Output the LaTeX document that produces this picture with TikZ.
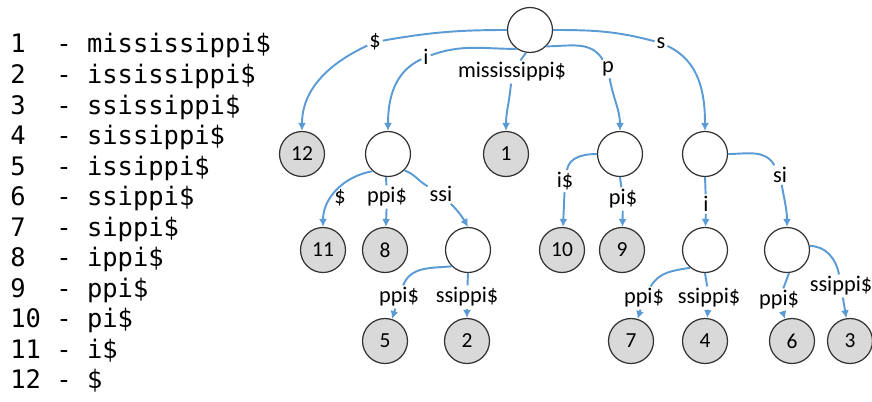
\documentclass[tikz,border=0pt]{standalone}
\usepackage{fontspec}
\setmainfont{Carlito}
\newfontfamily\sufmono{DejaVu Sans Mono}
\usetikzlibrary{arrows.meta}
\definecolor{edgeBlue}{RGB}{91,155,213}

\begin{document}
\begin{tikzpicture}[x=0.02cm,y=-0.02cm,
    innerNode/.style={circle,draw=black!80,line width=0.7pt,minimum size=0.9cm,inner sep=0pt,font=\fontsize{12.2}{14}\selectfont},
    leafNode/.style={innerNode,fill=black!15},
    edgeLbl/.style={inner sep=1pt,font=\fontsize{12.7}{14}\selectfont},
    edgeLine/.style={draw=edgeBlue,line width=1.1pt},
    edgeArrow/.style={edgeLine,-{Latex[length=4.5pt,width=4.5pt]}},
    sufLine/.style={anchor=base west,inner sep=0pt,font=\sufmono\fontsize{14.5}{16}\selectfont},
]
\useasboundingbox (0,0) rectangle (872,402);
% suffixes of mississippi$
\foreach \k/\s in {1/mississippi,2/ississippi,3/ssissippi,4/sissippi,5/issippi,6/ssippi,
                   7/sippi,8/ippi,9/ppi,10/pi,11/i,12/{}}
    \node[sufLine] (suf\k) at (10,{53+30.5*(\k-1)}) {\k\ifnum\k<10~\fi{} - \s\$};

% tree nodes
\node[innerNode] (root) at (530,30) {};
\node[leafNode] (leaf12) at (302,154) {12};
\node[innerNode] (nodeI) at (388,154) {};
\node[leafNode] (leaf1) at (506,154) {1};
\node[innerNode] (nodeP) at (620,154) {};
\node[innerNode] (nodeS) at (705,154) {};
\node[leafNode] (leaf11) at (323,250) {11};
\node[leafNode] (leaf8) at (385,250) {8};
\node[innerNode] (nodeISSI) at (468,250) {};
\node[leafNode] (leaf10) at (562,250) {10};
\node[leafNode] (leaf9) at (622,250) {9};
\node[innerNode] (nodeSI) at (705,250) {};
\node[innerNode] (nodeSSI) at (787,250) {};
\node[leafNode] (leaf5) at (385,341) {5};
\node[leafNode] (leaf2) at (467,341) {2};
\node[leafNode] (leaf7) at (631,341) {7};
\node[leafNode] (leaf4) at (705,341) {4};
\node[leafNode] (leaf6) at (792,341) {6};
\node[leafNode] (leaf3) at (850,341) {3};

% edge labels
\node[edgeLbl] (lbl12) at (375,42) {\$};
\node[edgeLbl] (lblI) at (426,57) {i};
\node[edgeLbl] (lbl1) at (512,72) {mississippi\$};
\node[edgeLbl] (lblP) at (608,69) {p};
\node[edgeLbl] (lblS) at (661,43) {s};
\node[edgeLbl] (lbl11) at (340,198) {\$};
\node[edgeLbl] (lbl8) at (387,197) {ppi\$};
\node[edgeLbl] (lblISSI) at (441,194) {ssi};
\node[edgeLbl] (lbl10) at (565,181) {i\$};
\node[edgeLbl] (lbl9) at (623,199) {pi\$};
\node[edgeLbl] (lblSI) at (706,204) {i};
\node[edgeLbl] (lblSSI) at (780,175) {si};
\node[edgeLbl] (lbl5) at (399,297) {ppi\$};
\node[edgeLbl] (lbl2) at (467,297) {ssippi\$};
\node[edgeLbl] (lbl7) at (644,298) {ppi\$};
\node[edgeLbl] (lbl4) at (709,298) {ssippi\$};
\node[edgeLbl] (lbl6) at (779,300) {ppi\$};
\node[edgeLbl] (lbl3) at (841,286) {ssippi\$};

% edges from the root
\draw[edgeLine] (root.west) to[out=180,in=10] (lbl12);
\draw[edgeArrow] (lbl12) to[out=205,in=90] (leaf12.north);
\draw[edgeLine] (root.235) to[out=180,in=20] (lblI);
\draw[edgeArrow] (lblI) to[out=205,in=90] (nodeI.north);
\draw[edgeLine] (root.260) -- (lbl1);
\draw[edgeArrow] (lbl1) to[out=-95,in=90] (leaf1.north);
\draw[edgeLine] (root.-45) to[out=0,in=120] (lblP);
\draw[edgeArrow] (lblP) to[out=-80,in=90] (nodeP.north);
\draw[edgeLine] (root.east) to[out=0,in=165] (lblS);
\draw[edgeArrow] (lblS) to[out=-25,in=90] (nodeS.north);

% second level
\draw[edgeArrow] (nodeI.228) to[out=190,in=90] (leaf11.north);
\draw[edgeLine] (nodeI.265) -- (lbl8);
\draw[edgeArrow] (lbl8) -- (leaf8);
\draw[edgeLine] (nodeI.-45) to[out=-20,in=150] (lblISSI);
\draw[edgeArrow] (lblISSI) to[out=-45,in=120] (nodeISSI.north);
\draw[edgeLine] (nodeP.west) to[out=180,in=80] (lbl10);
\draw[edgeArrow] (lbl10) -- (leaf10);
\draw[edgeLine] (nodeP.south) -- (lbl9);
\draw[edgeArrow] (lbl9) -- (leaf9);
\draw[edgeLine] (nodeS.south) -- (lblSI);
\draw[edgeArrow] (lblSI) -- (nodeSI);
\draw[edgeLine] (nodeS.east) to[out=0,in=120] (lblSSI);
\draw[edgeArrow] (lblSSI) to[out=-80,in=90] (nodeSSI.north);

% third level
\draw[edgeLine] (nodeISSI.225) to[out=185,in=70] (lbl5);
\draw[edgeArrow] (lbl5) -- (leaf5);
\draw[edgeLine] (nodeISSI.south) -- (lbl2);
\draw[edgeArrow] (lbl2) -- (leaf2);
\draw[edgeLine] (nodeSI.230) to[out=190,in=60] (lbl7);
\draw[edgeArrow] (lbl7) -- (leaf7);
\draw[edgeLine] (nodeSI.south) -- (lbl4);
\draw[edgeArrow] (lbl4) -- (leaf4);
\draw[edgeLine] (nodeSSI.-85) -- (lbl6);
\draw[edgeArrow] (lbl6) -- (leaf6);
\draw[edgeLine] (nodeSSI.10) to[out=0,in=100] (lbl3);
\draw[edgeArrow] (lbl3) -- (leaf3);
\end{tikzpicture}
\end{document}
